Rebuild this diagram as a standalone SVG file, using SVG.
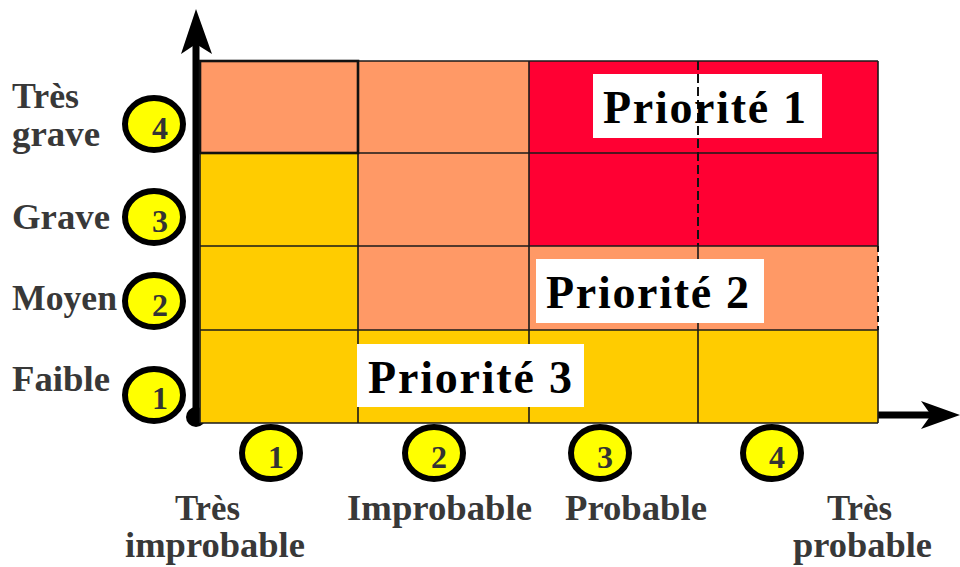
<svg xmlns="http://www.w3.org/2000/svg" width="960" height="567" viewBox="0 0 960 567">
<style>
.gold{fill:#FFCC00}.sal{fill:#FF9966}.red{fill:#FF0033}
.ln{stroke:#1a1a1a;stroke-width:1.6;fill:none}
.lbl{font-family:"Liberation Serif","Times New Roman",serif;font-weight:bold;font-size:36px;fill:#383838}
.num{font-family:"Liberation Serif","Times New Roman",serif;font-weight:bold;font-size:32px;fill:#333;text-anchor:middle}
.pri{font-family:"Liberation Serif","Times New Roman",serif;font-weight:bold;font-size:46px;fill:#000}
.badge{fill:#FFFF00;stroke:#000;stroke-width:6}
.box{fill:#fff}
.ax{stroke:#000;stroke-width:7;fill:none}
</style>
<rect width="960" height="567" fill="#fff"/>
<g id="connectors">
  <circle cx="196" cy="417" r="10" fill="#000"/>
  <line class="ax" x1="196" y1="417" x2="196" y2="40"/>
  <path d="M196,9 L212,54 L196,44 L181,54 Z" fill="#000"/>
  <line class="ax" x1="196" y1="415" x2="935" y2="415"/>
  <path d="M960,415 L921,401 L931,415 L921,429 Z" fill="#000"/>
</g>
<g id="grid">
  <rect class="sal" x="200" y="61" width="158" height="92"/>
  <rect class="sal" x="358" y="61" width="171" height="92"/>
  <rect class="red" x="529" y="61" width="349" height="185"/>
  <rect class="gold" x="200" y="153" width="158" height="93"/>
  <rect class="sal" x="358" y="153" width="171" height="93"/>
  <rect class="gold" x="200" y="246" width="158" height="84"/>
  <rect class="sal" x="358" y="246" width="520" height="84"/>
  <rect class="gold" x="200" y="330" width="678" height="93"/>
  <path class="ln" d="M200,61H878M200,153H878M200,246H878M200,330H878M200,423H878M200,61V423M358,61V423M529,61V423M698,246V423M878,61V246M878,330V423"/>
  <rect x="200" y="61" width="158" height="92" fill="none" stroke="#111" stroke-width="2.6"/>
  <line x1="878" y1="246" x2="878" y2="330" stroke="#111" stroke-width="2" stroke-dasharray="6,4"/>
</g>
<g id="priorite1">
  <rect class="box" x="593" y="74" width="229" height="64"/>
  <line x1="698" y1="61" x2="698" y2="246" stroke="#111" stroke-width="2" stroke-dasharray="9,4"/>
  <text class="pri" x="603" y="123" textLength="203" lengthAdjust="spacing">Priorité 1</text>
</g>
<g id="priorite2">
  <rect class="box" x="536" y="259" width="228" height="64"/>
  <text class="pri" x="546" y="308" textLength="203" lengthAdjust="spacing">Priorité 2</text>
</g>
<g id="priorite3">
  <rect class="box" x="357" y="344" width="227" height="63"/>
  <text class="pri" x="368" y="393" textLength="204" lengthAdjust="spacing">Priorité 3</text>
</g>
<g id="gravite">
  <text class="lbl" x="12" y="108" textLength="67" lengthAdjust="spacingAndGlyphs">Très</text>
  <text class="lbl" x="12" y="146" textLength="88" lengthAdjust="spacingAndGlyphs">grave</text>
  <ellipse class="badge" cx="154" cy="124" rx="29" ry="26"/>
  <text class="num" x="160" y="139">4</text>
  <text class="lbl" x="12" y="229" textLength="98" lengthAdjust="spacingAndGlyphs">Grave</text>
  <ellipse class="badge" cx="154" cy="217" rx="29" ry="26"/>
  <text class="num" x="160" y="232">3</text>
  <text class="lbl" x="12" y="310" textLength="105" lengthAdjust="spacingAndGlyphs">Moyen</text>
  <ellipse class="badge" cx="154" cy="301" rx="29" ry="26"/>
  <text class="num" x="160" y="316">2</text>
  <text class="lbl" x="12" y="391" textLength="98" lengthAdjust="spacingAndGlyphs">Faible</text>
  <ellipse class="badge" cx="154" cy="395" rx="29" ry="26"/>
  <text class="num" x="160" y="409">1</text>
</g>
<g id="probabilite">
  <ellipse class="badge" cx="271" cy="453" rx="29" ry="26"/>
  <text class="num" x="276" y="468">1</text>
  <ellipse class="badge" cx="434" cy="453" rx="29" ry="26"/>
  <text class="num" x="439" y="468">2</text>
  <ellipse class="badge" cx="600" cy="453" rx="29" ry="26"/>
  <text class="num" x="605" y="468">3</text>
  <ellipse class="badge" cx="772" cy="453" rx="29" ry="26"/>
  <text class="num" x="777" y="468">4</text>
  <text class="lbl" x="175" y="520" textLength="65" lengthAdjust="spacingAndGlyphs">Très</text>
  <text class="lbl" x="125" y="557" textLength="180" lengthAdjust="spacingAndGlyphs">improbable</text>
  <text class="lbl" x="347" y="520" textLength="185" lengthAdjust="spacingAndGlyphs">Improbable</text>
  <text class="lbl" x="565" y="520" textLength="142" lengthAdjust="spacingAndGlyphs">Probable</text>
  <text class="lbl" x="827" y="520" textLength="65" lengthAdjust="spacingAndGlyphs">Très</text>
  <text class="lbl" x="793" y="557" textLength="139" lengthAdjust="spacingAndGlyphs">probable</text>
</g>
</svg>
